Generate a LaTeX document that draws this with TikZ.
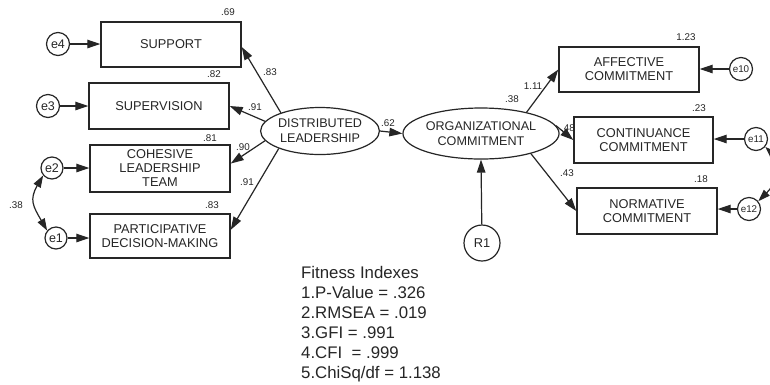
\documentclass[tikz,border=0pt]{standalone}
\usepackage{fontspec}
\setmainfont{Liberation Sans}
\usetikzlibrary{arrows.meta,shapes.geometric,calc}
\definecolor{ink}{HTML}{262626}
\tikzset{
  obs/.style={draw=ink,line width=1.4pt,rectangle,minimum width=140pt,minimum height=45pt,inner sep=0pt,align=center,font=\fontsize{12.8}{14}\selectfont,text=ink},
  lat/.style={draw=ink,line width=1.2pt,ellipse,inner sep=0pt,align=center,font=\fontsize{12.6}{15}\selectfont,text=ink},
  err/.style={draw=ink,line width=1.2pt,circle,minimum size=23pt,inner sep=0pt,font=\fontsize{12.5}{14}\selectfont,text=ink},
  errs/.style={err,font=\fontsize{9.8}{11}\selectfont},
  lab/.style={font=\fontsize{9.8}{11}\selectfont,text=ink,inner sep=0pt},
  arr/.style={draw=ink,line width=1.2pt,-{Triangle[length=13pt,width=8.5pt]}},
  darr/.style={draw=ink,line width=1.2pt,{Triangle[length=12pt,width=8pt]}-{Triangle[length=12pt,width=8pt]}}
}
\begin{document}
\begin{tikzpicture}[x=1pt,y=-1pt]
\clip (0,0) rectangle (770,384);
\fill[white] (0,0) rectangle (770,384);
% observed boxes left
\node[obs,minimum height=45pt] (SUP) at (171,44.5) {SUPPORT};
\node[obs,minimum height=46pt] (SUPV) at (159,106) {SUPERVISION};
\node[obs,minimum height=47pt] (COH) at (160,168.5) {COHESIVE\\LEADERSHIP\\TEAM};
\node[obs,minimum height=44pt] (PART) at (160,236) {PARTICIPATIVE\\DECISION-MAKING};
% observed boxes right
\node[obs,minimum height=45pt] (AFF) at (629,69.5) {AFFECTIVE\\COMMITMENT};
\node[obs,minimum width=139pt,minimum height=46pt] (CONT) at (643.5,140) {CONTINUANCE\\COMMITMENT};
\node[obs,minimum height=46pt] (NORM) at (647,211) {NORMATIVE\\COMMITMENT};
% latent
\node[lat,minimum width=107pt,minimum height=47pt] (DL) at (320,131) {DISTRIBUTED\\LEADERSHIP};
\node[lat,minimum width=128pt,minimum height=51pt] (OC) at (481,133.5) {ORGANIZATIONAL\\COMMITMENT};
% errors
\node[err] (e4) at (58,44) {e4};
\node[err] (e3) at (48,106) {e3};
\node[err,minimum size=22pt] (e2) at (52,168) {e2};
\node[err,minimum size=22pt] (e1) at (56,238) {e1};
\node[errs] (e10) at (741,69) {e10};
\node[errs] (e11) at (756,139) {e11};
\node[errs] (e12) at (749,209) {e12};
\node[err,minimum size=36pt,font=\fontsize{12.8}{14}\selectfont] (R1) at (482,243) {R1};
% error arrows
\draw[arr] (e4) -- (e4 -| SUP.west);
\draw[arr] (e3) -- (e3 -| SUPV.west);
\draw[arr] (e2) -- (e2 -| COH.west);
\draw[arr] (e1) -- (e1 -| PART.west);
\draw[arr] (e10) -- (e10 -| AFF.east);
\draw[arr] (e11) -- (e11 -| CONT.east);
\draw[arr] (e12) -- (e12 -| NORM.east);
\draw[darr] (e2.220) to[out=240,in=120,looseness=1.3] (e1.140);
\draw[darr] (e11.-40) to[out=-45,in=45,looseness=1.2] (e12.40);
% structural
\draw[arr] (DL.155) -- (SUP.-2);
\draw[arr] (DL.170) -- (SUPV.east);
\draw[arr] (DL.190) -- (COH.4.5);
\draw[arr] (DL.203) -- (PART.5.7);
\draw[arr] (DL.east) -- (OC.west);
\draw[arr] (R1) -- (OC.south);
\draw[arr] (OC.25) -- (AFF.west);
\draw[arr] (OC.6) -- (CONT.west);
\draw[arr] (OC.-22) -- (NORM.west);
% labels
\node[lab] (l1) at (228,12) {.69};
\node[lab] (l2) at (214,74) {.82};
\node[lab] (l3) at (210,138) {.81};
\node[lab] (l4) at (212,205) {.83};
\node[lab] (l5) at (270,72) {.83};
\node[lab] (l6) at (255,107) {.91};
\node[lab] (l7) at (243,147) {.90};
\node[lab] (l8) at (247,182) {.91};
\node[lab] (l9) at (388,123) {.62};
\node[lab] (l10) at (512,99) {.38};
\node[lab] (l11) at (533,86) {1.11};
\node[lab] (l12) at (568,128) {.48};
\node[lab] (l13) at (567,173) {.43};
\node[lab] (l14) at (686,37) {1.23};
\node[lab] (l15) at (699,108) {.23};
\node[lab] (l16) at (701,179) {.18};
\node[lab] (l17) at (16,205) {.38};
% fitness
\node[anchor=north west,align=left,inner sep=0pt,text=ink,font=\fontsize{16.8}{20}\selectfont] (fit) at (301,266)
 {Fitness Indexes\\1.P-Value = .326\\2.RMSEA = .019\\3.GFI = .991\\4.CFI \ = .999\\5.ChiSq/df = 1.138};
\end{tikzpicture}
\end{document}
